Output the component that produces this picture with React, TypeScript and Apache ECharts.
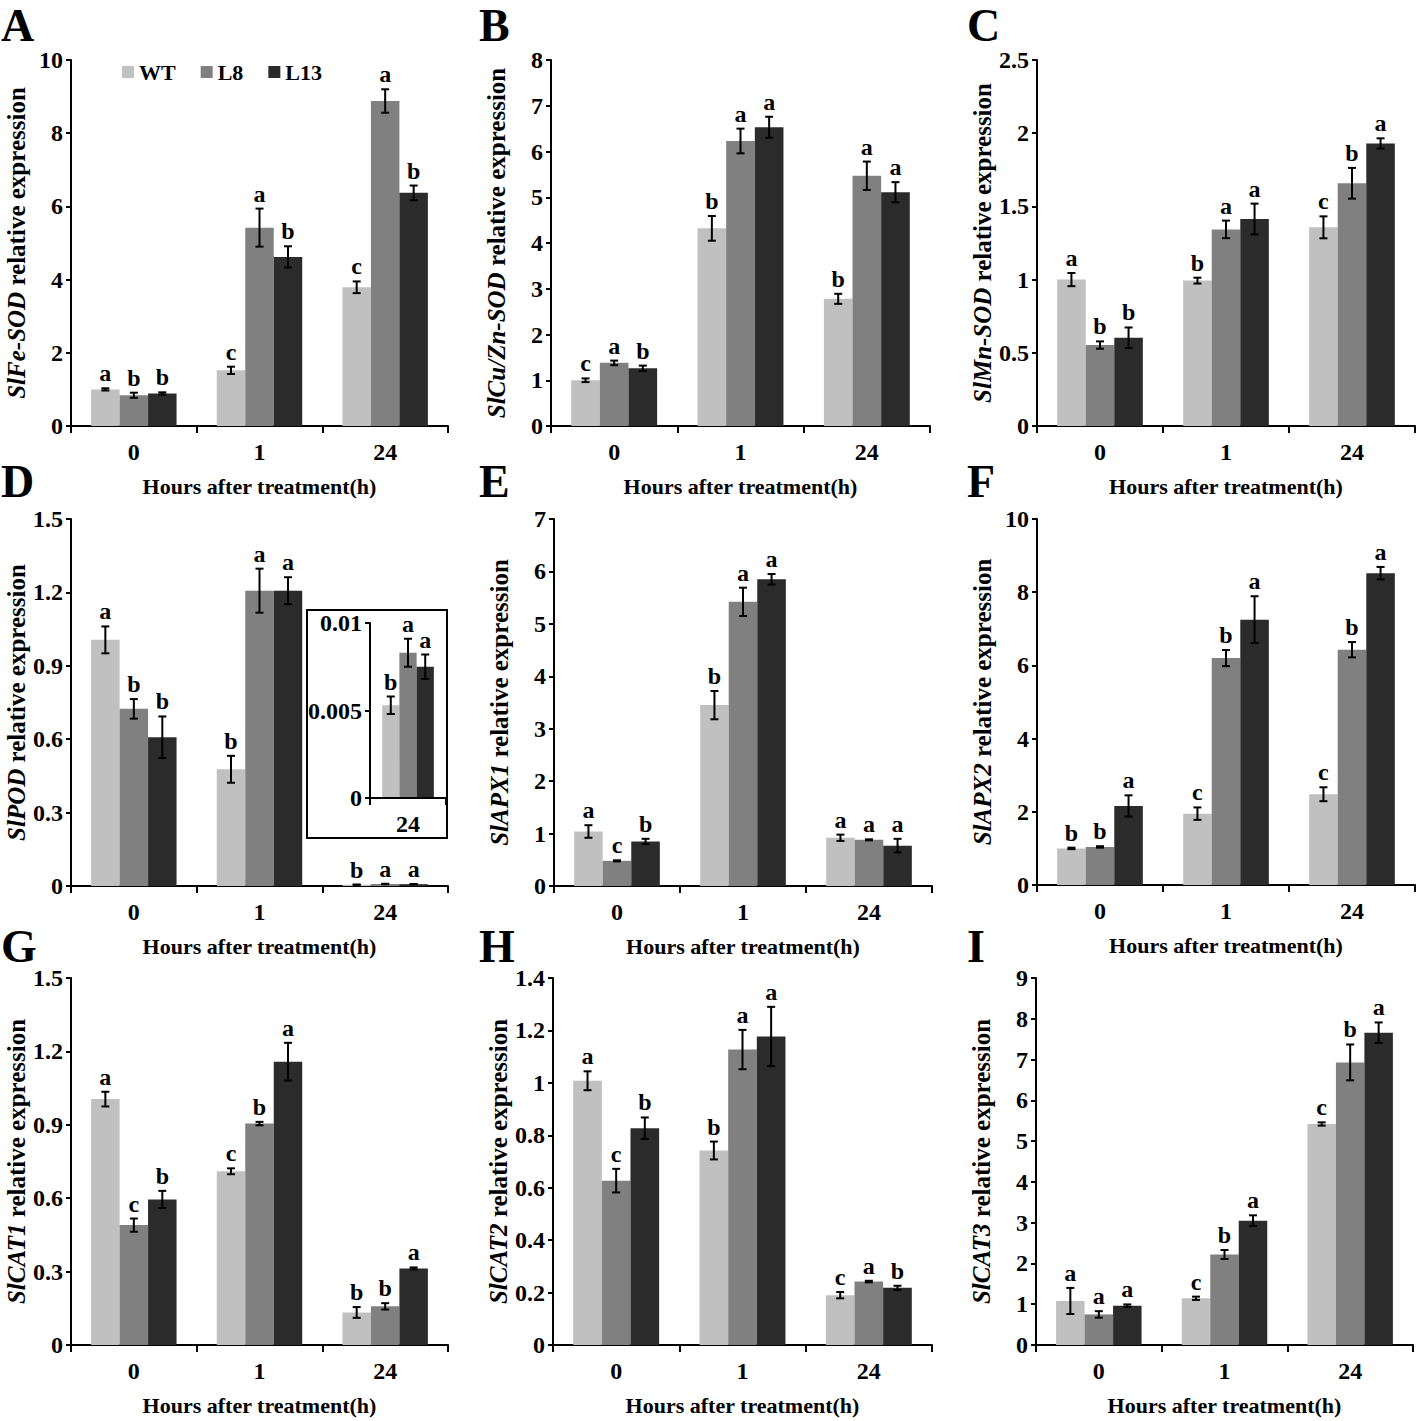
import React, { useEffect, useRef } from 'react';
import * as echarts from 'echarts';

// ---------- data ----------
const CATS = ['0', '1', '24'];
const LINES = ['WT', 'L8', 'L13'];
const COLORS = ['#c0c0c0', '#808080', '#2b2b2b'];

// rows: WT, L8, L13 ; columns: 0 h, 1 h, 24 h
const feSodMean = [[1.0, 1.52, 3.79], [0.84, 5.42, 8.88], [0.89, 4.62, 6.37]];
const feSodErr = [[0.03, 0.1, 0.16], [0.07, 0.52, 0.32], [0.03, 0.29, 0.2]];
const feSodSig = [['a', 'c', 'c'], ['b', 'a', 'a'], ['b', 'b', 'b']];

const cuZnSodMean = [[1.0, 4.32, 2.78], [1.38, 6.23, 5.47], [1.26, 6.53, 5.11]];
const cuZnSodErr = [[0.04, 0.27, 0.11], [0.05, 0.27, 0.31], [0.06, 0.23, 0.22]];
const cuZnSodSig = [['c', 'b', 'b'], ['a', 'a', 'a'], ['b', 'a', 'a']];

const mnSodMean = [[1.0, 0.993, 1.357], [0.553, 1.343, 1.658], [0.603, 1.414, 1.93]];
const mnSodErr = [[0.045, 0.02, 0.075], [0.025, 0.06, 0.105], [0.07, 0.105, 0.035]];
const mnSodSig = [['a', 'b', 'c'], ['b', 'a', 'b'], ['b', 'a', 'a']];

const podMean = [[1.006, 0.477, 0.0053], [0.724, 1.207, 0.0083], [0.608, 1.207, 0.0075]];
const podErr = [[0.055, 0.055, 0.0005], [0.04, 0.09, 0.0008], [0.085, 0.055, 0.0007]];
const podSig = [['a', 'b', 'b'], ['b', 'a', 'a'], ['b', 'a', 'a']];

const apx1Mean = [[1.04, 3.45, 0.92], [0.48, 5.42, 0.88], [0.85, 5.85, 0.77]];
const apx1Err = [[0.12, 0.27, 0.06], [0.01, 0.27, 0.01], [0.05, 0.1, 0.13]];
const apx1Sig = [['a', 'b', 'a'], ['c', 'a', 'a'], ['b', 'a', 'a']];

const apx2Mean = [[1.0, 1.95, 2.48], [1.04, 6.2, 6.43], [2.16, 7.25, 8.52]];
const apx2Err = [[0.02, 0.17, 0.19], [0.02, 0.22, 0.21], [0.29, 0.64, 0.17]];
const apx2Sig = [['b', 'c', 'c'], ['b', 'b', 'b'], ['a', 'a', 'a']];

const cat1Mean = [[1.005, 0.71, 0.133], [0.49, 0.905, 0.158], [0.595, 1.158, 0.313]];
const cat1Err = [[0.03, 0.012, 0.022], [0.027, 0.007, 0.013], [0.035, 0.077, 0.004]];
const cat1Sig = [['a', 'c', 'b'], ['c', 'b', 'b'], ['b', 'a', 'a']];

const cat2Mean = [[1.008, 0.742, 0.19], [0.627, 1.127, 0.242], [0.827, 1.177, 0.218]];
const cat2Err = [[0.036, 0.034, 0.012], [0.045, 0.075, 0.003], [0.041, 0.113, 0.008]];
const cat2Sig = [['a', 'b', 'c'], ['c', 'a', 'a'], ['b', 'a', 'b']];

const cat3Mean = [[1.08, 1.146, 5.42], [0.75, 2.22, 6.93], [0.965, 3.05, 7.66]];
const cat3Err = [[0.32, 0.04, 0.04], [0.08, 0.11, 0.44], [0.03, 0.13, 0.25]];
const cat3Sig = [['a', 'c', 'c'], ['a', 'b', 'b'], ['a', 'a', 'a']];

const INSET_CATS = ['24'];

// ---------- layout ----------
const FONT = "'Liberation Serif', 'Times New Roman', serif";
const GAP = 0.32;

const PANELS = [
  { letter: 'A', gene: 'SlFe-SOD', mean: feSodMean, err: feSodErr, sig: feSodSig, max: 10, interval: 2, left: 71, top: 60, width: 377, height: 366, lx: 1, ly: 2 },
  { letter: 'B', gene: 'SlCu/Zn-SOD', mean: cuZnSodMean, err: cuZnSodErr, sig: cuZnSodSig, max: 8, interval: 1, left: 551, top: 60, width: 379, height: 366, lx: 479, ly: 2 },
  { letter: 'C', gene: 'SlMn-SOD', mean: mnSodMean, err: mnSodErr, sig: mnSodSig, max: 2.5, interval: 0.5, left: 1037, top: 60, width: 378, height: 366, lx: 967, ly: 2 },
  { letter: 'D', gene: 'SlPOD', mean: podMean, err: podErr, sig: podSig, max: 1.5, interval: 0.3, left: 71, top: 519, width: 377, height: 367, lx: 1, ly: 458 },
  { letter: 'E', gene: 'SlAPX1', mean: apx1Mean, err: apx1Err, sig: apx1Sig, max: 7, interval: 1, left: 554, top: 519, width: 378, height: 367, lx: 479, ly: 458 },
  { letter: 'F', gene: 'SlAPX2', mean: apx2Mean, err: apx2Err, sig: apx2Sig, max: 10, interval: 2, left: 1037, top: 519, width: 378, height: 366, lx: 967, ly: 458 },
  { letter: 'G', gene: 'SlCAT1', mean: cat1Mean, err: cat1Err, sig: cat1Sig, max: 1.5, interval: 0.3, left: 71, top: 978, width: 377, height: 367, lx: 1, ly: 923 },
  { letter: 'H', gene: 'SlCAT2', mean: cat2Mean, err: cat2Err, sig: cat2Sig, max: 1.4, interval: 0.2, left: 553, top: 978, width: 379, height: 367, lx: 479, ly: 923 },
  { letter: 'I', gene: 'SlCAT3', mean: cat3Mean, err: cat3Err, sig: cat3Sig, max: 9, interval: 1, left: 1036, top: 978, width: 377, height: 367, lx: 967, ly: 923 },
];

const INSET = { left: 370, top: 623, width: 76, height: 175, max: 0.01, interval: 0.005 };

const TICK_FS = 24;
const SIG_FS = 24;

function errRender(k: number, sig: string[][], col: number | null, barFrac: number) {
  return (params: any, api: any) => {
    const j = api.value(0);
    const m = api.value(1);
    const e = api.value(2);
    const band = api.size([1, 0])[0];
    const bw = (band * barFrac) / 3;
    const c = api.coord([j, m]);
    const x = c[0] + (k - 1) * bw;
    const yT = api.coord([j, m + e])[1];
    const yB = api.coord([j, Math.max(m - e, 0)])[1];
    const ls = { stroke: '#000', lineWidth: 2 };
    const idx = col === null ? params.dataIndex : col;
    return {
      type: 'group',
      children: [
        { type: 'line', shape: { x1: x, y1: yT, x2: x, y2: yB }, style: ls },
        { type: 'line', shape: { x1: x - 4, y1: yT, x2: x + 4, y2: yT }, style: ls },
        { type: 'line', shape: { x1: x - 4, y1: yB, x2: x + 4, y2: yB }, style: ls },
        {
          type: 'text',
          x,
          y: yT - 3,
          style: {
            text: sig[k][idx],
            fill: '#000',
            font: `bold ${SIG_FS}px ${FONT}`,
            align: 'center',
            verticalAlign: 'bottom',
          },
        },
      ],
    };
  };
}

function buildOption() {
  const grid: any[] = [];
  const xAxis: any[] = [];
  const yAxis: any[] = [];
  const series: any[] = [];
  const graphic: any[] = [];

  const labelStyle = { color: '#000', fontFamily: FONT, fontWeight: 'bold', fontSize: TICK_FS };
  const axisLine = { show: true, lineStyle: { color: '#000', width: 2 } };
  const axisTickStyle = { color: '#000', width: 2 };

  PANELS.forEach((p, gi) => {
    grid.push({ left: p.left, top: p.top, width: p.width, height: p.height, containLabel: false });
    xAxis.push({
      type: 'category',
      gridIndex: gi,
      data: CATS,
      axisLine,
      axisTick: { show: true, length: 7, lineStyle: axisTickStyle },
      axisLabel: { ...labelStyle, margin: 14, interval: 0 },
      name: 'Hours after treatment(h)',
      nameLocation: 'middle',
      nameGap: 49,
      nameTextStyle: { color: '#000', fontFamily: FONT, fontWeight: 'bold', fontSize: 22 },
      splitLine: { show: false },
    });
    yAxis.push({
      type: 'value',
      gridIndex: gi,
      min: 0,
      max: p.max,
      interval: p.interval,
      axisLine,
      axisTick: { show: true, length: 5, lineStyle: axisTickStyle },
      axisLabel: { ...labelStyle, margin: 8 },
      splitLine: { show: false },
      name: `{g|${p.gene}}{t| relative expression}`,
      nameLocation: 'middle',
      nameRotate: 90,
      nameGap: 42,
      nameTextStyle: {
        rich: {
          g: { fontFamily: FONT, fontWeight: 'bold', fontStyle: 'italic', fontSize: 25, color: '#000' },
          t: { fontFamily: FONT, fontWeight: 'bold', fontSize: 25, color: '#000' },
        },
      },
    });
    LINES.forEach((name, k) => {
      series.push({
        type: 'bar',
        name,
        xAxisIndex: gi,
        yAxisIndex: gi,
        data: p.mean[k],
        barGap: '0%',
        barCategoryGap: `${GAP * 100}%`,
        itemStyle: { color: COLORS[k] },
        z: 2,
      });
    });
    LINES.forEach((name, k) => {
      series.push({
        type: 'custom',
        name: `err-${name}`,
        xAxisIndex: gi,
        yAxisIndex: gi,
        data: CATS.map((_, j) => [j, p.mean[k][j], p.err[k][j]]),
        renderItem: errRender(k, p.sig, null, 1 - GAP),
        z: 4,
      });
    });
    graphic.push({
      type: 'text',
      left: p.lx,
      top: p.ly,
      style: { text: p.letter, fill: '#000', font: `bold 46px ${FONT}` },
    });
  });

  // inset of panel D (24 h values)
  const ig = grid.length;
  const d = PANELS[3];
  grid.push({ left: INSET.left, top: INSET.top, width: INSET.width, height: INSET.height, containLabel: false, z: 10 });
  xAxis.push({
    type: 'category',
    gridIndex: ig,
    data: INSET_CATS,
    axisLine,
    axisTick: { show: true, length: 7, lineStyle: axisTickStyle },
    axisLabel: { ...labelStyle, margin: 14 },
    z: 10,
  });
  yAxis.push({
    type: 'value',
    gridIndex: ig,
    min: 0,
    max: INSET.max,
    interval: INSET.interval,
    axisLine,
    axisTick: { show: true, length: 5, lineStyle: axisTickStyle },
    axisLabel: { ...labelStyle, margin: 8 },
    splitLine: { show: false },
    z: 10,
  });
  LINES.forEach((name, k) => {
    series.push({
      type: 'bar',
      name,
      xAxisIndex: ig,
      yAxisIndex: ig,
      data: [d.mean[k][2]],
      barGap: '0%',
      barCategoryGap: `${GAP * 100}%`,
      itemStyle: { color: COLORS[k] },
      z: 8,
    });
  });
  LINES.forEach((name, k) => {
    series.push({
      type: 'custom',
      name: `ierr-${name}`,
      xAxisIndex: ig,
      yAxisIndex: ig,
      data: [[0, d.mean[k][2], d.err[k][2]]],
      renderItem: errRender(k, d.sig, 2, 1 - GAP),
      z: 9,
    });
  });
  graphic.push({
    type: 'rect',
    shape: { x: 307, y: 610, width: 140, height: 228 },
    style: { fill: '#fff', stroke: '#000', lineWidth: 2 },
    z: -1,
  });

  return {
    animation: false,
    backgroundColor: '#fff',
    textStyle: { fontFamily: FONT },
    legend: {
      data: LINES,
      left: 117,
      top: 56,
      icon: 'rect',
      itemWidth: 12,
      itemHeight: 12,
      itemGap: 25,
      textStyle: { color: '#000', fontFamily: FONT, fontWeight: 'bold', fontSize: 22 },
      selectedMode: false,
    },
    grid,
    xAxis,
    yAxis,
    series,
    graphic,
  };
}

export default function App() {
  const ref = useRef<HTMLDivElement>(null);
  useEffect(() => {
    if (!ref.current) return;
    const chart = echarts.init(ref.current, undefined, { renderer: 'svg' });
    chart.setOption(buildOption() as any);
    return () => chart.dispose();
  }, []);
  return (
    <div
      ref={ref}
      style={{ position: 'absolute', left: 0, top: 0, width: 1418, height: 1421, background: '#fff' }}
    />
  );
}
